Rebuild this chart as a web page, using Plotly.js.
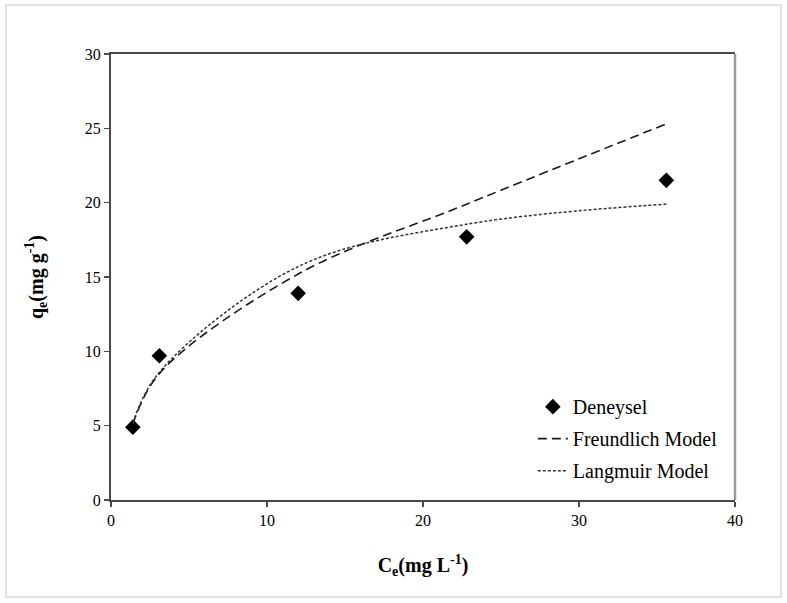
<!DOCTYPE html>
<html>
<head>
<meta charset="utf-8">
<script src="https://cdn.plot.ly/plotly-3.0.1.min.js"></script>
<style>html,body{margin:0;padding:0;background:#fff;}#chart{width:787px;height:603px;}</style>
</head>
<body>
<div id="chart"></div>
<script>
// Experimental data (Deneysel)
const ceData = [1.4, 3.1, 12.0, 22.8, 35.6];
const qeData = [4.9, 9.7, 13.9, 17.7, 21.5];
const ceModel = [1.4, 3.1, 12.0, 22.8, 35.6];
const qeFreundlich = [5.1, 8.5, 15.2, 19.9, 25.3];
const qeLangmuir = [5.2, 8.6, 15.7, 18.55, 19.9];
const seriesNames = ['Deneysel', 'Freundlich Model', 'Langmuir Model'];
const xTicks = [0, 10, 20, 30, 40];
const yTicks = [0, 5, 10, 15, 20, 25, 30];

const FONT = 'Liberation Serif, Times New Roman, serif';

const traces = [
  {
    x: ceData, y: qeData, name: seriesNames[0], type: 'scatter', mode: 'markers',
    marker: {symbol: 'diamond', size: 12, color: '#000'},
    legendgroup: 'a'
  },
  {
    x: ceModel, y: qeFreundlich, name: seriesNames[1], type: 'scatter', mode: 'lines',
    line: {color: '#1a1a1a', width: 1.6, dash: '9px,5px', shape: 'spline', smoothing: 1},
    legendgroup: 'b'
  },
  {
    x: ceModel, y: qeLangmuir, name: seriesNames[2], type: 'scatter', mode: 'lines',
    line: {color: '#333', width: 1.5, dash: '3px,2px', shape: 'spline', smoothing: 1},
    legendgroup: 'c'
  }
];

const layout = {
  width: 787, height: 603,
  margin: {l: 111, r: 52, t: 54, b: 103},
  paper_bgcolor: '#fff', plot_bgcolor: '#fff',
  font: {family: FONT, color: '#000', size: 16},
  showlegend: true,
  legend: {
    x: 0.676, y: 0.253, xanchor: 'left', yanchor: 'top',
    bgcolor: 'rgba(0,0,0,0)', font: {family: FONT, size: 20, color: '#000'},
    traceorder: 'grouped', tracegroupgap: 3
  },
  xaxis: {
    range: [0, 40], tickvals: xTicks, ticktext: xTicks.map(String),
    showgrid: false, zeroline: false, showline: true, mirror: true,
    linecolor: '#4a4a4a', linewidth: 2,
    ticks: 'outside', ticklen: 5, tickwidth: 1.5, tickcolor: '#4a4a4a',
    tickfont: {family: FONT, size: 16, color: '#000'},
    title: {text: '<b>C<sub>e</sub>(mg L<sup>-1</sup>)</b>', font: {family: FONT, size: 20, color: '#000'}, standoff: 30}
  },
  yaxis: {
    range: [0, 30], tickvals: yTicks, ticktext: yTicks.map(String),
    showgrid: false, zeroline: false, showline: true, mirror: false,
    linecolor: '#4a4a4a', linewidth: 2,
    ticks: 'outside', ticklen: 5, tickwidth: 1.5, tickcolor: '#4a4a4a',
    tickfont: {family: FONT, size: 16, color: '#000'},
    title: {text: '<b>q<sub>e</sub>(mg g<sup>-1</sup>)</b>', font: {family: FONT, size: 20, color: '#000'}, standoff: 36}
  },
  shapes: [
    {type: 'line', xref: 'paper', yref: 'paper', x0: 1, x1: 1, y0: 0, y1: 1,
     line: {color: '#999', width: 2.5}},
    {type: 'rect', xref: 'paper', yref: 'paper',
     x0: (6 - 111) / 624, x1: (781 - 111) / 624,
     y0: (500 - 597) / 446, y1: (500 - 5) / 446,
     line: {color: '#d9d9d9', width: 1.5}, fillcolor: 'rgba(0,0,0,0)', layer: 'below'}
  ]
};

Plotly.newPlot('chart', traces, layout, {displayModeBar: false, staticPlot: true});
</script>
</body>
</html>
